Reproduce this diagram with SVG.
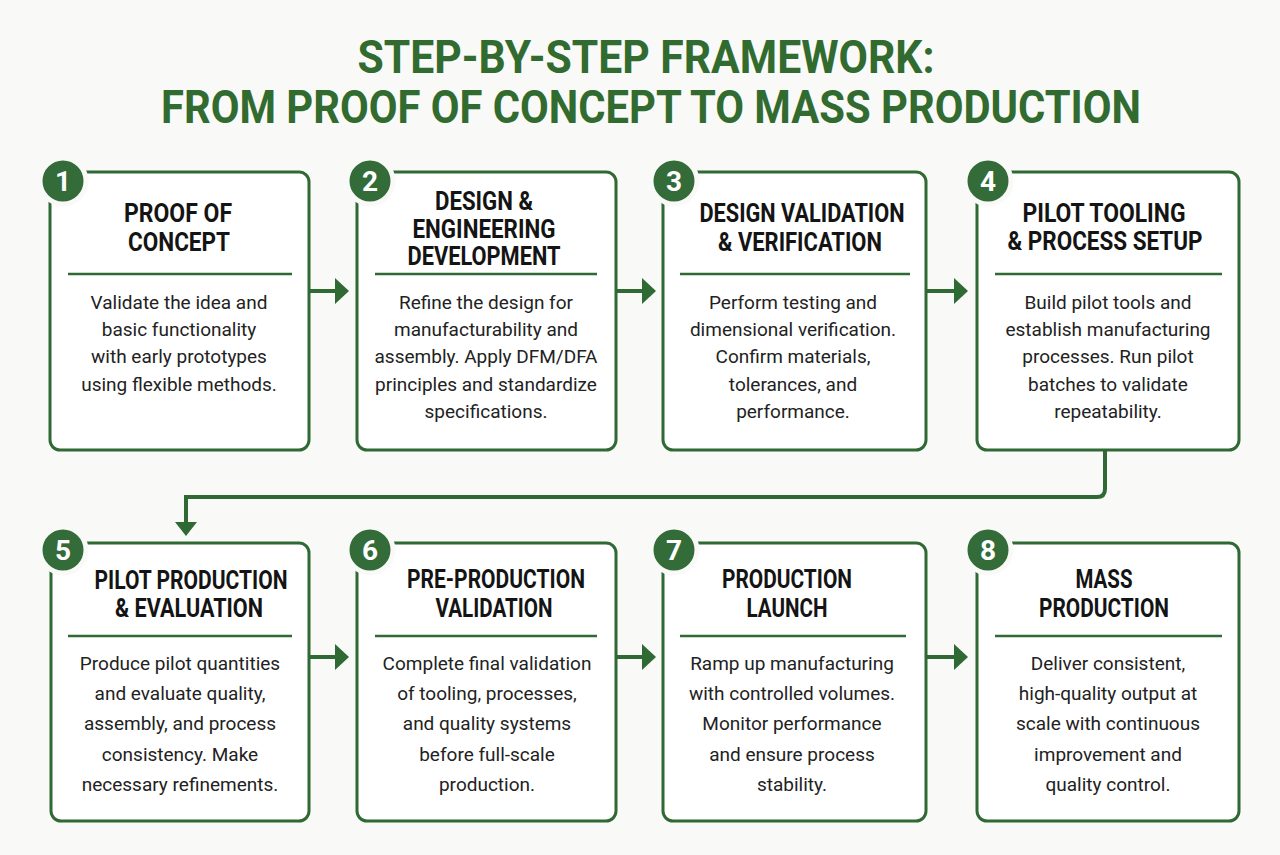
<svg xmlns="http://www.w3.org/2000/svg" width="1280" height="855" viewBox="0 0 1280 855">
<style>
.bg{fill:#f9f9f7}
.box{fill:#ffffff;stroke:#2f6934;stroke-width:3}
.sep{stroke:#2f6934;stroke-width:2.5}
.badge{fill:#336b39;stroke:#f9f9f7;stroke-width:5}
.num{font-family:Roboto,"Liberation Sans",sans-serif;font-weight:700;font-size:28px;fill:#ffffff;text-anchor:middle}
.title{font-family:Roboto,"Liberation Sans",sans-serif;font-weight:700;font-size:46px;fill:#326b30;text-anchor:middle}
.head{font-family:Roboto,"Liberation Sans",sans-serif;font-weight:700;font-size:25px;fill:#141414;text-anchor:middle}
.body{font-family:Roboto,"Liberation Sans",sans-serif;font-size:19px;fill:#222222;text-anchor:middle}
.conn{fill:none;stroke:#2f6934;stroke-width:4}
.ah{fill:#2f6934}
</style>
<rect class="bg" x="0" y="0" width="1280" height="855"/>
<g id="title">
<text class="title" x="646" y="73" textLength="577" lengthAdjust="spacingAndGlyphs">STEP-BY-STEP FRAMEWORK:</text>
<text class="title" x="651" y="123" textLength="980" lengthAdjust="spacingAndGlyphs">FROM PROOF OF CONCEPT TO MASS PRODUCTION</text>
</g>
<g id="connectors">
<line class="conn" x1="310" y1="291" x2="336" y2="291"/><polygon class="ah" points="335,278 349,291 335,304"/>
<line class="conn" x1="617" y1="291" x2="643" y2="291"/><polygon class="ah" points="642,278 656,291 642,304"/>
<line class="conn" x1="926" y1="291" x2="955" y2="291"/><polygon class="ah" points="954,278 968,291 954,304"/>
<path class="conn" d="M1105,451 V489 Q1105,497 1097,497 H186 V524"/><polygon class="ah" points="175,522 197,522 186,536"/>
<line class="conn" x1="310" y1="657" x2="336" y2="657"/><polygon class="ah" points="335,644 349,657 335,670"/>
<line class="conn" x1="617" y1="657" x2="643" y2="657"/><polygon class="ah" points="642,644 656,657 642,670"/>
<line class="conn" x1="926" y1="657" x2="955" y2="657"/><polygon class="ah" points="954,644 968,657 954,670"/>
</g>
<g id="step1">
<rect class="box" x="50" y="172" width="259" height="278" rx="10"/>
<circle class="badge" cx="63" cy="181" r="23"/><text class="num" x="63" y="191">1</text>
<text class="head" x="178" y="222" textLength="108" lengthAdjust="spacingAndGlyphs">PROOF OF</text>
<text class="head" x="179" y="251" textLength="102" lengthAdjust="spacingAndGlyphs">CONCEPT</text>
<line class="sep" x1="68" y1="274" x2="292" y2="274"/>
<text class="body" x="179" y="309">Validate the idea and</text>
<text class="body" x="179" y="336">basic functionality</text>
<text class="body" x="179" y="363">with early prototypes</text>
<text class="body" x="179" y="391">using flexible methods.</text>
</g>
<g id="step2">
<rect class="box" x="357" y="172" width="259" height="278" rx="10"/>
<circle class="badge" cx="370" cy="181" r="23"/><text class="num" x="370" y="191">2</text>
<text class="head" x="484" y="210" textLength="98" lengthAdjust="spacingAndGlyphs">DESIGN &amp;</text>
<text class="head" x="484" y="238" textLength="143" lengthAdjust="spacingAndGlyphs">ENGINEERING</text>
<text class="head" x="484" y="265" textLength="153" lengthAdjust="spacingAndGlyphs">DEVELOPMENT</text>
<line class="sep" x1="375" y1="274" x2="597" y2="274"/>
<text class="body" x="486" y="309">Refine the design for</text>
<text class="body" x="486" y="336">manufacturability and</text>
<text class="body" x="486" y="363">assembly. Apply DFM/DFA</text>
<text class="body" x="486" y="391">principles and standardize</text>
<text class="body" x="486" y="418">specifications.</text>
</g>
<g id="step3">
<rect class="box" x="663" y="172" width="263" height="278" rx="10"/>
<circle class="badge" cx="674" cy="181" r="23"/><text class="num" x="674" y="191">3</text>
<text class="head" x="802" y="222" textLength="205" lengthAdjust="spacingAndGlyphs">DESIGN VALIDATION</text>
<text class="head" x="800" y="251" textLength="164" lengthAdjust="spacingAndGlyphs">&amp; VERIFICATION</text>
<line class="sep" x1="680" y1="274" x2="910" y2="274"/>
<text class="body" x="793" y="309">Perform testing and</text>
<text class="body" x="793" y="336">dimensional verification.</text>
<text class="body" x="793" y="363">Confirm materials,</text>
<text class="body" x="793" y="391">tolerances, and</text>
<text class="body" x="793" y="418">performance.</text>
</g>
<g id="step4">
<rect class="box" x="977" y="172" width="262" height="278" rx="10"/>
<circle class="badge" cx="988" cy="181" r="23"/><text class="num" x="988" y="191">4</text>
<text class="head" x="1104" y="222" textLength="163" lengthAdjust="spacingAndGlyphs">PILOT TOOLING</text>
<text class="head" x="1105" y="250" textLength="195" lengthAdjust="spacingAndGlyphs">&amp; PROCESS SETUP</text>
<line class="sep" x1="995" y1="274" x2="1222" y2="274"/>
<text class="body" x="1108" y="309">Build pilot tools and</text>
<text class="body" x="1108" y="336">establish manufacturing</text>
<text class="body" x="1108" y="363">processes. Run pilot</text>
<text class="body" x="1108" y="391">batches to validate</text>
<text class="body" x="1108" y="418">repeatability.</text>
</g>
<g id="step5">
<rect class="box" x="51" y="543" width="258" height="278" rx="10"/>
<circle class="badge" cx="63" cy="550" r="23"/><text class="num" x="63" y="560">5</text>
<text class="head" x="191" y="589" textLength="193" lengthAdjust="spacingAndGlyphs">PILOT PRODUCTION</text>
<text class="head" x="189" y="617" textLength="148" lengthAdjust="spacingAndGlyphs">&amp; EVALUATION</text>
<line class="sep" x1="68" y1="636" x2="292" y2="636"/>
<text class="body" x="180" y="670">Produce pilot quantities</text>
<text class="body" x="180" y="700">and evaluate quality,</text>
<text class="body" x="180" y="730">assembly, and process</text>
<text class="body" x="180" y="761">consistency. Make</text>
<text class="body" x="180" y="791">necessary refinements.</text>
</g>
<g id="step6">
<rect class="box" x="357" y="543" width="259" height="278" rx="10"/>
<circle class="badge" cx="370" cy="550" r="23"/><text class="num" x="370" y="560">6</text>
<text class="head" x="496" y="588" textLength="178" lengthAdjust="spacingAndGlyphs">PRE-PRODUCTION</text>
<text class="head" x="494" y="617" textLength="117" lengthAdjust="spacingAndGlyphs">VALIDATION</text>
<line class="sep" x1="375" y1="636" x2="597" y2="636"/>
<text class="body" x="487" y="670">Complete final validation</text>
<text class="body" x="487" y="700">of tooling, processes,</text>
<text class="body" x="487" y="730">and quality systems</text>
<text class="body" x="487" y="761">before full-scale</text>
<text class="body" x="487" y="791">production.</text>
</g>
<g id="step7">
<rect class="box" x="663" y="543" width="263" height="278" rx="10"/>
<circle class="badge" cx="674" cy="550" r="23"/><text class="num" x="674" y="560">7</text>
<text class="head" x="787" y="588" textLength="130" lengthAdjust="spacingAndGlyphs">PRODUCTION</text>
<text class="head" x="787" y="617" textLength="81" lengthAdjust="spacingAndGlyphs">LAUNCH</text>
<line class="sep" x1="680" y1="636" x2="906" y2="636"/>
<text class="body" x="792" y="670">Ramp up manufacturing</text>
<text class="body" x="792" y="700">with controlled volumes.</text>
<text class="body" x="792" y="730">Monitor performance</text>
<text class="body" x="792" y="761">and ensure process</text>
<text class="body" x="792" y="791">stability.</text>
</g>
<g id="step8">
<rect class="box" x="977" y="543" width="262" height="278" rx="10"/>
<circle class="badge" cx="988" cy="550" r="23"/><text class="num" x="988" y="560">8</text>
<text class="head" x="1104" y="588" textLength="57" lengthAdjust="spacingAndGlyphs">MASS</text>
<text class="head" x="1104" y="617" textLength="130" lengthAdjust="spacingAndGlyphs">PRODUCTION</text>
<line class="sep" x1="995" y1="636" x2="1222" y2="636"/>
<text class="body" x="1108" y="670">Deliver consistent,</text>
<text class="body" x="1108" y="700">high-quality output at</text>
<text class="body" x="1108" y="730">scale with continuous</text>
<text class="body" x="1108" y="761">improvement and</text>
<text class="body" x="1108" y="791">quality control.</text>
</g>
</svg>
